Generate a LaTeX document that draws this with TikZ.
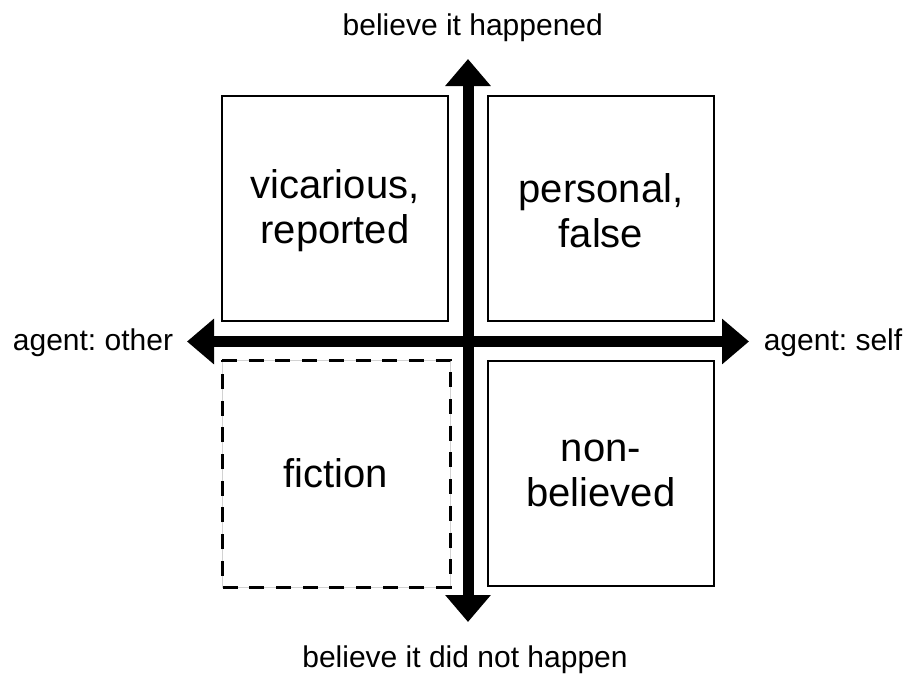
\documentclass[tikz,border=0pt]{standalone}
\usepackage{fontspec}
\setmainfont{Liberation Sans}
\usetikzlibrary{arrows.meta}
\frenchspacing
\tikzset{
  axis/.style={line width=11pt, -{Triangle[length=27pt,width=44pt]}},
  quad/.style={draw, line width=2pt, minimum width=226pt, minimum height=225pt, inner sep=0pt},
  quadtext/.style={inner sep=0pt, align=center, font=\fontsize{40}{45}\selectfont},
  lbl/.style={anchor=base, inner sep=0pt, font=\fontsize{30}{34}\selectfont}
}
\begin{document}
\begin{tikzpicture}[x=1pt,y=-1pt]
\useasboundingbox (0,0) rectangle (906,675);
% axis end points
\coordinate (c) at (468,341.5);
\coordinate (up) at (468,59);
\coordinate (down) at (468,622);
\coordinate (left) at (187,341.5);
\coordinate (right) at (749,341.5);
% quadrants
\node[quad] (tl) at (335,208.5) {};
\node[quad] (tr) at (601,208.5) {};
\node[quad] (br) at (601,473.5) {};
\node[quad, draw=none] (bl) at (336,473.5) {};
\draw[gray!35, line width=1pt] (bl.north west) rectangle (bl.south east);
\draw[line width=3pt, dash pattern=on 15pt off 11.7pt] (bl.north west) -- (bl.north east) -- (bl.south east) -- (bl.south west) -- cycle;
\node[quadtext] (tltext) at ([yshift=-2.5pt]tl.center) {vicarious,\\reported};
\node[quadtext] (trtext) at ([yshift=-2.5pt]tr.center) {personal,\\false};
\node[quadtext] (brtext) at (br.center) {non-\\believed};
\node[quadtext] (bltext) at (bl.center) {fiction};
% axes
\draw[axis] (c) -- (up);
\draw[axis] (c) -- (down);
\draw[axis] (c) -- (left);
\draw[axis] (c) -- (right);
% labels
\node[lbl] (lup) at (472.8,35) {believe it happened};
\node[lbl] (ldown) at (465,667) {believe it did not happen};
\node[lbl] (lleft) at (93,350) {agent: other};
\node[lbl] (lright) at (833,350) {agent: self};
\end{tikzpicture}
\end{document}
